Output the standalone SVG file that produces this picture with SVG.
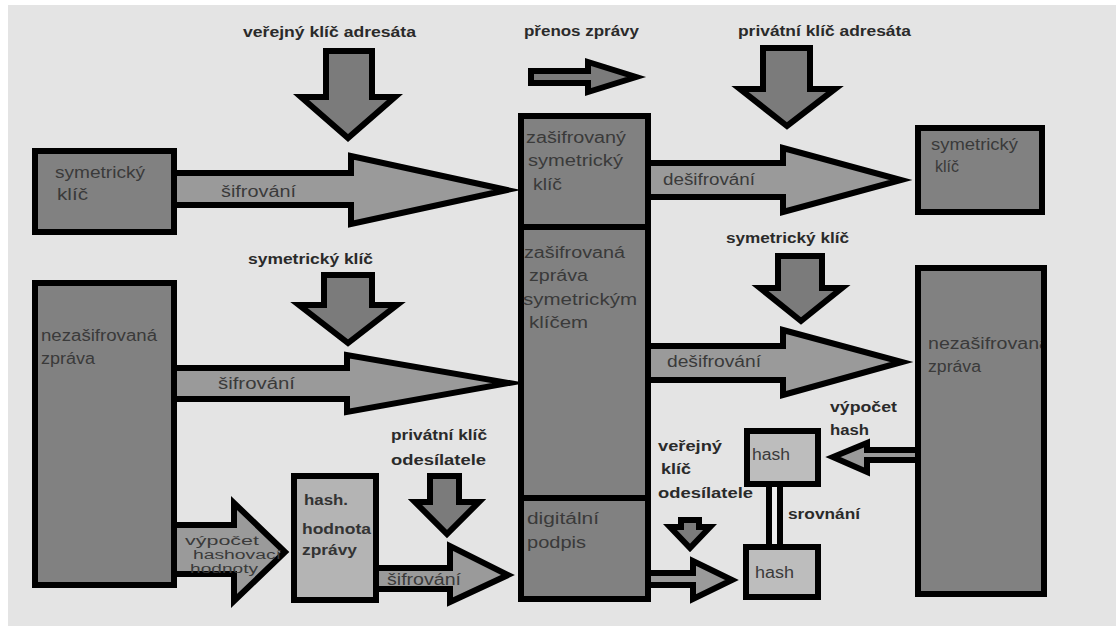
<svg xmlns="http://www.w3.org/2000/svg" width="1116" height="626" viewBox="0 0 1116 626">
  <defs>
    <style>
      .bg { fill: #e4e4e4; }
      .box { fill: #818181; stroke: #000; stroke-width: 6; stroke-linejoin: miter; }
      .hbox { fill: #bdbdbd; stroke: #000; stroke-width: 6; }
      .hval { fill: #b4b4b4; stroke: #000; stroke-width: 6; }
      .flow { fill: #9a9a9a; stroke: #000; stroke-width: 6; stroke-linejoin: miter; stroke-miterlimit: 12; }
      .key { fill: #7b7b7b; stroke: #000; stroke-width: 6; stroke-linejoin: miter; stroke-miterlimit: 12; }
      .bar { fill: #ececec; stroke: #000; stroke-width: 6; }
      .lbl { font-family: "Liberation Sans", Arial, sans-serif; font-size: 14px; font-weight: bold; fill: #2a2a2a; }
      .txt { font-family: "Liberation Sans", Arial, sans-serif; font-size: 16px; fill: #3a3a3a; }
      .small { font-family: "Liberation Sans", Arial, sans-serif; font-size: 12.5px; fill: #3a3a3a; }
      .txtb { font-family: "Liberation Sans", Arial, sans-serif; font-size: 14px; font-weight: bold; fill: #333; }
    </style>
    <clipPath id="clipRightMsg">
      <rect x="921" y="271" width="120" height="320"/>
    </clipPath>
  </defs>

  <rect class="bg" x="8" y="5" width="1108" height="621"/>

  <!-- key inputs and flow arrows -->
  <g id="connectors">
    <!-- encryption of the symmetric key -->
    <path class="flow" d="M174,173 H351 V156 L507,190 L351,224 V205 H174 Z"/>
    <!-- encryption of the message -->
    <path class="flow" d="M174,368 H347 V355 L509,383 L347,412 V399 H174 Z"/>
    <!-- hash computation -->
    <path class="flow" d="M174,525 H234 V503 L285,552 L234,601 V574 H174 Z"/>
    <!-- signing the hash -->
    <path class="flow" d="M376,568 H450 V546 L508,575 L450,602 V589 H376 Z"/>
    <!-- message transfer -->
    <path class="key" d="M531,71 H588 V62 L636,77 L588,92 V83 H531 Z"/>
    <!-- decryption of the symmetric key -->
    <path class="flow" d="M648,163 H783 V148 L901,180 L783,212 V197 H648 Z"/>
    <!-- decryption of the message -->
    <path class="flow" d="M648,346 H783 V330 L902,362 L783,395 V380 H648 Z"/>
    <!-- signature verification -->
    <path class="flow" d="M648,573 H693 V561 L732,580 L693,599 V585 H648 Z"/>
    <!-- hash of the received message -->
    <path class="flow" d="M918,450 H867 V443 L833,457 L867,472 V460 H918 Z"/>

    <!-- key input arrows -->
    <path class="key" d="M326,51 H372 V97 H395 L348,138 L301,97 H326 Z"/>
    <path class="key" d="M763,48 H810 V89 H835 L787,126 L740,89 H763 Z"/>
    <path class="key" d="M324,275 H372 V305 H397 L348,343 L299,305 H324 Z"/>
    <path class="key" d="M778,256 H822 V288 H842 L801,321 L760,288 H778 Z"/>
    <path class="key" d="M430,476 H459 V502 H479 L447,534 L415,502 H430 Z"/>
    <path class="key" d="M681,520 H699 V527 H710 L690,548 L670,527 H681 Z"/>

    <!-- comparison link -->
    <rect class="bar" x="769" y="484" width="11" height="63"/>

    <text class="txt" x="221" y="197" textLength="75" lengthAdjust="spacingAndGlyphs">šifrování</text>
    <text class="txt" x="218" y="389" textLength="77" lengthAdjust="spacingAndGlyphs">šifrování</text>
    <text class="txt" x="387" y="585" textLength="74" lengthAdjust="spacingAndGlyphs">šifrování</text>
    <text class="txt" x="663" y="185" textLength="92" lengthAdjust="spacingAndGlyphs">dešifrování</text>
    <text class="txt" x="667" y="367" textLength="94" lengthAdjust="spacingAndGlyphs">dešifrování</text>
    <text class="small" x="185" y="545" textLength="74" lengthAdjust="spacingAndGlyphs">výpočet</text>
    <text class="small" x="193" y="559" textLength="88" lengthAdjust="spacingAndGlyphs">hashovací</text>
    <text class="small" x="190" y="573" textLength="68" lengthAdjust="spacingAndGlyphs">hodnoty</text>

    <text class="lbl" x="243" y="37" textLength="173" lengthAdjust="spacingAndGlyphs">veřejný klíč adresáta</text>
    <text class="lbl" x="524" y="36" textLength="115" lengthAdjust="spacingAndGlyphs">přenos zprávy</text>
    <text class="lbl" x="738" y="36" textLength="173" lengthAdjust="spacingAndGlyphs">privátní klíč adresáta</text>
    <text class="lbl" x="248" y="264" textLength="125" lengthAdjust="spacingAndGlyphs">symetrický klíč</text>
    <text class="lbl" x="726" y="243" textLength="123" lengthAdjust="spacingAndGlyphs">symetrický klíč</text>
    <text class="lbl" x="830" y="412" textLength="67" lengthAdjust="spacingAndGlyphs">výpočet</text>
    <text class="lbl" x="830" y="435" textLength="39" lengthAdjust="spacingAndGlyphs">hash</text>
    <text class="lbl" x="391" y="440" textLength="96" lengthAdjust="spacingAndGlyphs">privátní klíč</text>
    <text class="lbl" x="391" y="465" textLength="95" lengthAdjust="spacingAndGlyphs">odesílatele</text>
    <text class="lbl" x="658" y="451" textLength="64" lengthAdjust="spacingAndGlyphs">veřejný</text>
    <text class="lbl" x="661" y="474" textLength="30" lengthAdjust="spacingAndGlyphs">klíč</text>
    <text class="lbl" x="658" y="498" textLength="95" lengthAdjust="spacingAndGlyphs">odesílatele</text>
    <text class="lbl" x="788" y="519" textLength="72" lengthAdjust="spacingAndGlyphs">srovnání</text>
  </g>

  <g id="sym-key-sender">
    <rect class="box" x="35" y="151" width="139" height="81"/>
    <text class="txt" x="55" y="178" textLength="90" lengthAdjust="spacingAndGlyphs">symetrický</text>
    <text class="txt" x="57" y="200" textLength="31" lengthAdjust="spacingAndGlyphs">klíč</text>
  </g>

  <g id="plain-msg-sender">
    <rect class="box" x="35" y="283" width="139" height="302"/>
    <text class="txt" x="41" y="341" textLength="116" lengthAdjust="spacingAndGlyphs">nezašifrovaná</text>
    <text class="txt" x="41" y="364" textLength="54" lengthAdjust="spacingAndGlyphs">zpráva</text>
  </g>

  <g id="hash-value">
    <rect class="hval" x="294" y="476" width="82" height="124"/>
    <text class="txtb" x="304" y="505" textLength="44" lengthAdjust="spacingAndGlyphs">hash.</text>
    <text class="txtb" x="302" y="534" textLength="69" lengthAdjust="spacingAndGlyphs">hodnota</text>
    <text class="txtb" x="302" y="555" textLength="55" lengthAdjust="spacingAndGlyphs">zprávy</text>
  </g>

  <g id="enc-sym-key">
    <rect class="box" x="521" y="116" width="127" height="111"/>
    <text class="txt" x="526" y="143" textLength="100" lengthAdjust="spacingAndGlyphs">zašifrovaný</text>
    <text class="txt" x="528" y="166" textLength="95" lengthAdjust="spacingAndGlyphs">symetrický</text>
    <text class="txt" x="533" y="190" textLength="29" lengthAdjust="spacingAndGlyphs">klíč</text>
  </g>

  <g id="enc-msg">
    <rect class="box" x="521" y="227" width="127" height="271"/>
    <text class="txt" x="524" y="258" textLength="101" lengthAdjust="spacingAndGlyphs">zašifrovaná</text>
    <text class="txt" x="529" y="281" textLength="59" lengthAdjust="spacingAndGlyphs">zpráva</text>
    <text class="txt" x="523" y="305" textLength="114" lengthAdjust="spacingAndGlyphs">symetrickým</text>
    <text class="txt" x="529" y="328" textLength="59" lengthAdjust="spacingAndGlyphs">klíčem</text>
  </g>

  <g id="signature">
    <rect class="box" x="521" y="498" width="127" height="101"/>
    <text class="txt" x="527" y="524" textLength="72" lengthAdjust="spacingAndGlyphs">digitální</text>
    <text class="txt" x="527" y="548" textLength="59" lengthAdjust="spacingAndGlyphs">podpis</text>
  </g>

  <g id="sym-key-receiver">
    <rect class="box" x="918" y="128" width="124" height="84"/>
    <text class="txt" x="931" y="150" textLength="87" lengthAdjust="spacingAndGlyphs">symetrický</text>
    <text class="txt" x="935" y="172" textLength="24" lengthAdjust="spacingAndGlyphs">klíč</text>
  </g>

  <g id="plain-msg-receiver">
    <rect class="box" x="918" y="268" width="126" height="326"/>
    <g clip-path="url(#clipRightMsg)">
      <text class="txt" x="928" y="349" textLength="122" lengthAdjust="spacingAndGlyphs">nezašifrovaná</text>
      <text class="txt" x="928" y="372" textLength="53" lengthAdjust="spacingAndGlyphs">zpráva</text>
    </g>
  </g>

  <g id="hash-computed">
    <rect class="hbox" x="747" y="431" width="71" height="53"/>
    <text class="txt" x="752" y="460" textLength="38" lengthAdjust="spacingAndGlyphs" fill="#2e2e2e">hash</text>
  </g>

  <g id="hash-decrypted">
    <rect class="hbox" x="746" y="547" width="72" height="50"/>
    <text class="txt" x="755" y="578" textLength="39" lengthAdjust="spacingAndGlyphs" fill="#2e2e2e">hash</text>
  </g>
</svg>
